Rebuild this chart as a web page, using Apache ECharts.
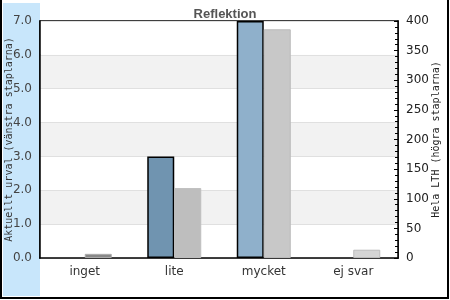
<!DOCTYPE html>
<html><head><meta charset="utf-8">
<script src="https://cdn.jsdelivr.net/npm/echarts@6/dist/echarts.min.js"></script>
<style>html,body{margin:0;padding:0;background:#fff}#c{width:450px;height:300px}</style>
</head><body><div id="c"></div>
<script>
const categories = ['inget', 'lite', 'mycket', 'ej svar'];
const urvalValues = [0, 3.0, 7.0, 0];
const lthValues = [7, 118, 386, 14];
const leftTicks = [0, 1, 2, 3, 4, 5, 6, 7];
const rightTicks = [0, 50, 100, 150, 200, 250, 300, 350, 400];

const urvalColors = ['#7094b0', '#7094b0', '#8fb0cb', '#8fb0cb'];
const lthColors = ['#888888', '#bebebe', '#c8c8c8', '#d4d4d4'];
const lthBorders = ['#aaaaaa', '#bebebe', '#bbbbbb', '#bbbbbb'];

const chart = echarts.init(document.getElementById('c'), null, {renderer: 'canvas'});
chart.setOption({
  animation: false,
  backgroundColor: '#fff',
  title: {
    text: 'Reflektion', left: 'center', top: 3,
    textStyle: {fontFamily: 'Liberation Sans', fontSize: 13, fontWeight: 'bold', color: '#555'}
  },
  graphic: [
    {type: 'rect', z: -10, shape: {x: 3, y: 3, width: 37, height: 293}, style: {fill: '#c8e6fb'}},
    {type: 'line', shape: {x1: 1, y1: 0, x2: 1, y2: 299}, style: {stroke: '#000', lineWidth: 2}},
    {type: 'line', shape: {x1: 0, y1: 298, x2: 449, y2: 298}, style: {stroke: '#000', lineWidth: 2}},
    {type: 'line', shape: {x1: 448, y1: 0, x2: 448, y2: 299}, style: {stroke: '#000', lineWidth: 2}}
  ],
  grid: {left: 40, right: 52, top: 21, bottom: 42, containLabel: false, outerBoundsMode: 'none',
    show: true, borderColor: '#000', borderWidth: 1.5, backgroundColor: 'transparent'},
  xAxis: {
    type: 'category', data: categories,
    axisTick: {show: false},
    axisLine: {lineStyle: {color: '#000', width: 1.5}},
    axisLabel: {fontFamily: 'DejaVu Sans', fontSize: 12, color: '#333', margin: 8}
  },
  yAxis: [
    {
      type: 'value', min: leftTicks[0], max: leftTicks[leftTicks.length - 1], interval: 1,
      name: 'Aktuellt urval (vänstra staplarna)', nameLocation: 'middle', nameRotate: 90, nameGap: 26,
      nameMoveOverlap: false,
      nameTextStyle: {fontFamily: 'DejaVu Sans Mono', fontSize: 10, color: '#333'},
      axisLine: {show: true, lineStyle: {color: '#000', width: 1.5}},
      axisTick: {show: false},
      axisLabel: {fontFamily: 'DejaVu Sans', fontSize: 12, color: '#444', margin: 8, formatter: v => v.toFixed(1)},
      splitLine: {show: true, lineStyle: {color: '#e0e0e0', width: 1}},
      splitArea: {show: true, areaStyle: {color: ['#ffffff', '#f2f2f2']}}
    },
    {
      type: 'value', min: rightTicks[0], max: rightTicks[rightTicks.length - 1], interval: 50, position: 'right',
      name: 'Hela LTH (högra staplarna)', nameLocation: 'middle', nameRotate: 90, nameGap: 33,
      nameMoveOverlap: false,
      nameTextStyle: {fontFamily: 'DejaVu Sans Mono', fontSize: 10, color: '#222'},
      axisLine: {show: true, lineStyle: {color: '#000', width: 1.5}},
      axisTick: {show: true, inside: true, length: 4, lineStyle: {color: '#000'}},
      minorTick: {show: true, splitNumber: 5, length: 3, lineStyle: {color: '#000'}},
      axisLabel: {fontFamily: 'DejaVu Sans', fontSize: 12, color: '#222', margin: 8},
      splitLine: {show: false}
    }
  ],
  series: [
    {
      type: 'bar', yAxisIndex: 0, barWidth: 27, barGap: '0%',
      data: urvalValues.map((v, i) => ({
        value: v,
        itemStyle: {color: urvalColors[i], borderColor: '#000', borderWidth: v > 0 ? 1.5 : 0}
      }))
    },
    {
      type: 'bar', yAxisIndex: 1, barWidth: 27, barGap: '0%',
      data: lthValues.map((v, i) => ({
        value: v,
        itemStyle: {color: lthColors[i], borderColor: lthBorders[i], borderWidth: 1}
      }))
    }
  ]
});
</script></body></html>
